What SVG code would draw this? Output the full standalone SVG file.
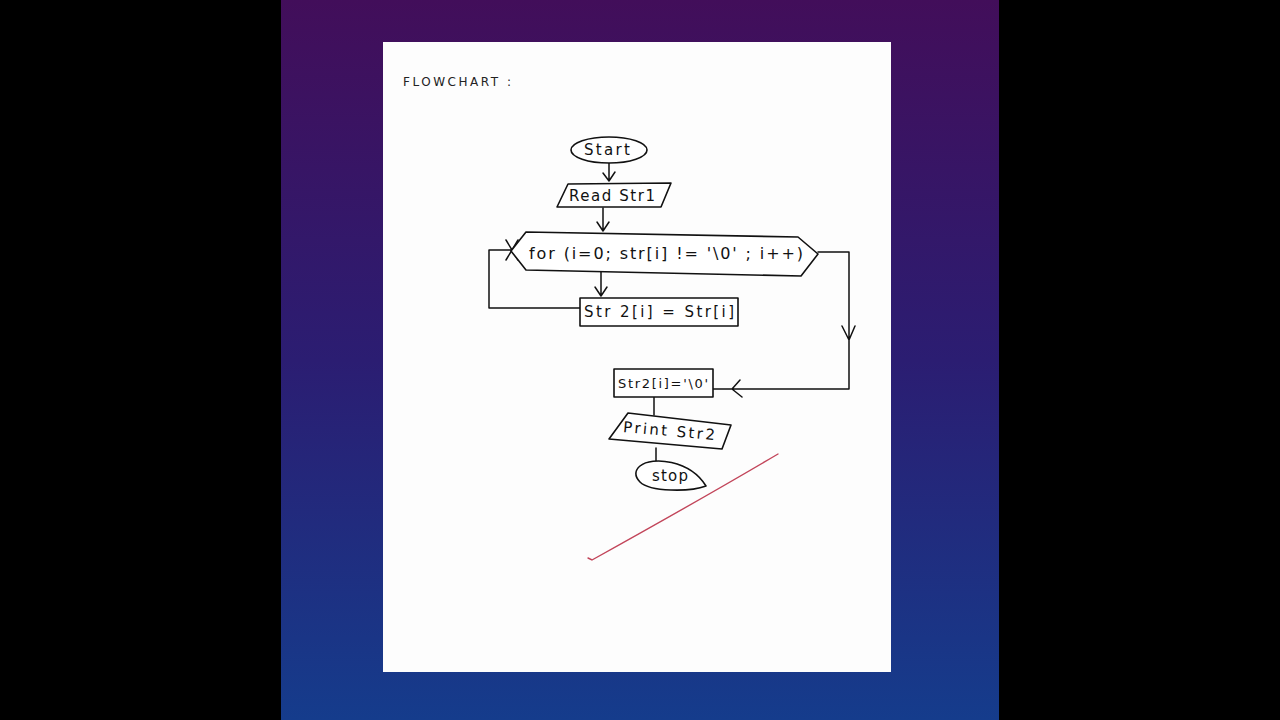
<svg xmlns="http://www.w3.org/2000/svg" width="1280" height="720" viewBox="0 0 1280 720">
<defs>
<linearGradient id="bg" x1="0" y1="0" x2="0" y2="1">
<stop offset="0" stop-color="#420e5a"/>
<stop offset="0.5" stop-color="#2b1d72"/>
<stop offset="1" stop-color="#153c8c"/>
</linearGradient>
<style>
.s{fill:#fff;stroke:#111;stroke-width:1.6;stroke-linejoin:round}
.c{fill:none;stroke:#111;stroke-width:1.5;stroke-linecap:round;stroke-linejoin:round}
.t{font-family:"DejaVu Sans","Liberation Sans",sans-serif;fill:#111;font-size:15px;text-anchor:middle;dominant-baseline:central}
</style>
</defs>
<rect width="1280" height="720" fill="#000"/>
<rect x="281" y="0" width="718" height="720" fill="url(#bg)"/>
<rect x="383" y="42" width="508" height="630" fill="#fdfdfd"/>
<text x="403" y="82" textLength="108" lengthAdjust="spacing" style="font-family:'DejaVu Sans','Liberation Sans',sans-serif;font-size:12px;fill:#222" dominant-baseline="central">FLOWCHART :</text>

<g id="connectors">
<path class="c" d="M609 163 V181 M603 173 L609 181 L615 172"/>
<path class="c" d="M603 208 V231 M597 222 L603 231 L609 222"/>
<path class="c" d="M601 272 V296 M595 287 L601 296 L607 287"/>
<path class="c" d="M580 308 H489 V250 H512 M506 240 L518 260 M506 260 L518 240"/>
<path class="c" d="M818 252 H849 V389 H713 M842 326 L849 340 L855 326 M740 380 L732 389 L742 397"/>
<path class="c" d="M654 397 V415"/>
<path class="c" d="M656 448 V461"/>
</g>

<g id="start">
<ellipse class="s" cx="609" cy="150" rx="38" ry="13"/>
<text class="t" x="607" y="150" textLength="46" lengthAdjust="spacing">Start</text>
</g>
<g id="read">
<polygon class="s" points="568,184 671,183 661,207 557,207"/>
<text class="t" x="612" y="196" textLength="86" lengthAdjust="spacing">Read Str1</text>
</g>
<g id="loop">
<polygon class="s" points="526,232 798,237 818,254 801,276 526,270 511,251"/>
<text class="t" x="666" y="253" style="font-size:16px" textLength="274" lengthAdjust="spacing">for (i=0; str[i] != '\0' ; i++)</text>
</g>
<g id="copy">
<rect class="s" x="580" y="298" width="158" height="28"/>
<text class="t" x="659" y="312" textLength="150" lengthAdjust="spacing">Str 2[i] = Str[i]</text>
</g>
<g id="term">
<rect class="s" x="614" y="369" width="99" height="28"/>
<text class="t" x="663" y="383" style="font-size:13px" textLength="90" lengthAdjust="spacing">Str2[i]='\0'</text>
</g>
<g id="print">
<polygon class="s" points="628,413 731,425 722,449 609,439"/>
<text class="t" x="669" y="431" transform="rotate(5 669 431)" textLength="92" lengthAdjust="spacing">Print Str2</text>
</g>
<g id="stop">
<path class="s" d="M640 466 C652 456 690 460 706 486 C690 492 650 492 640 482 C634 476 635 470 640 466 Z"/>
<text class="t" x="670" y="476" textLength="36" lengthAdjust="spacing">stop</text>
</g>
<path d="M778 454 Q700 500 592 560 L588 558" fill="none" stroke="#c2455a" stroke-width="1.4" stroke-linecap="round"/>
</svg>
